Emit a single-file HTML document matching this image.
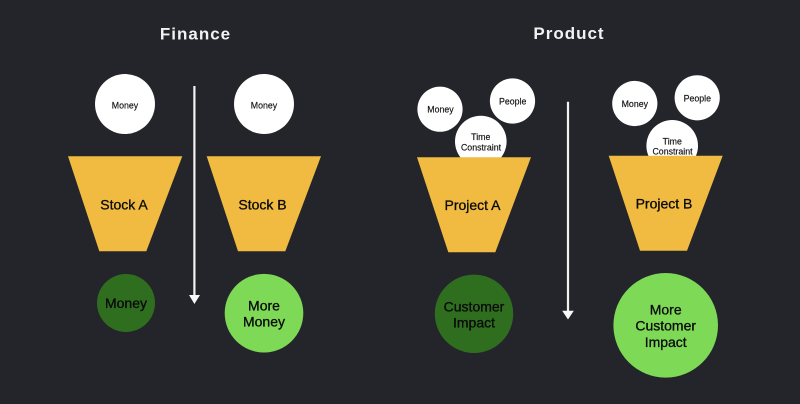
<!DOCTYPE html>
<html>
<head>
<meta charset="utf-8">
<style>
html,body{margin:0;padding:0;background:#24252b;width:800px;height:404px;overflow:hidden}
svg{display:block}
text{font-family:"Liberation Sans",sans-serif;text-anchor:middle;fill:#0c0c0c}
.t{font-weight:bold;font-size:17px;letter-spacing:1px;fill:#f2f2f2}
.s{font-size:8.8px;fill:#111;stroke:#111;stroke-width:.15px}
.m{font-size:14px;fill:#0a0a0a;stroke:#0a0a0a;stroke-width:.3px}
.f{fill:#f0bb40}
.d{fill:#2f6e1f}
.l{fill:#7ed957}
</style>
</head>
<body>
<svg width="800" height="404" viewBox="0 0 800 404" xmlns="http://www.w3.org/2000/svg">
<rect width="800" height="404" fill="#24252b"/>
<text class="t" x="195.5" y="39.3">Finance</text>
<text class="t" x="569" y="39">Product</text>

<circle cx="125" cy="104" r="30" fill="#fff"/>
<text class="s" x="125" y="108.5">Money</text>
<circle cx="264" cy="104" r="30" fill="#fff"/>
<text class="s" x="264" y="108.5">Money</text>

<polygon class="f" points="68,156.3 182.3,156.3 146.3,251.3 99.3,251.3"/>
<text class="m" x="124" y="209.3">Stock A</text>
<polygon class="f" points="206.7,156.3 321,156.3 285.3,251.3 238,251.3"/>
<text class="m" x="262.5" y="209.3">Stock B</text>

<circle class="d" cx="126" cy="303" r="29"/>
<text class="m" x="126" y="308">Money</text>
<circle class="l" cx="264" cy="313.2" r="39.3"/>
<text class="m" x="264" y="310.3">More</text>
<text class="m" x="264" y="326.5">Money</text>

<line x1="194.4" y1="86" x2="194.4" y2="296" stroke="#f2f2f2" stroke-width="2.2"/>
<polygon points="189,295 200,295 194.4,304" fill="#f8f8f8"/>

<circle cx="440" cy="109.2" r="22.6" fill="#fff"/>
<text class="s" x="440.5" y="112.3">Money</text>
<circle cx="512.5" cy="101" r="22.6" fill="#fff"/>
<text class="s" x="512.7" y="104.6">People</text>
<circle cx="480.8" cy="141.5" r="25.8" fill="#fff"/>
<text class="s" x="480.8" y="140">Time</text>
<text class="s" x="481" y="150.3">Constraint</text>
<polygon class="f" points="417,157.3 531,157.3 495.3,252.3 448.3,252.3"/>
<text class="m" x="472.5" y="210">Project A</text>

<circle cx="634.8" cy="103.5" r="22.6" fill="#fff"/>
<text class="s" x="634.8" y="107">Money</text>
<circle cx="697.2" cy="97.8" r="22.6" fill="#fff"/>
<text class="s" x="697.3" y="101.3">People</text>
<circle cx="672.2" cy="145.8" r="25.8" fill="#fff"/>
<text class="s" x="672.3" y="144.3">Time</text>
<text class="s" x="672.5" y="154.7">Constraint</text>
<polygon class="f" points="608.7,155.7 722.7,155.7 687,250.7 640,250.7"/>
<text class="m" x="664" y="208.3">Project B</text>

<circle class="d" cx="474" cy="313.8" r="39.2"/>
<text class="m" x="474" y="311.3">Customer</text>
<text class="m" x="474" y="327.3">Impact</text>
<circle class="l" cx="665.7" cy="325.3" r="52.3"/>
<text class="m" x="665.7" y="314.3">More</text>
<text class="m" x="665.7" y="330.7">Customer</text>
<text class="m" x="665.7" y="347">Impact</text>

<line x1="568" y1="101.7" x2="568" y2="311.5" stroke="#f2f2f2" stroke-width="2.2"/>
<polygon points="562.2,310.7 573.8,310.7 568,319.5" fill="#f8f8f8"/>
</svg>
</body>
</html>
